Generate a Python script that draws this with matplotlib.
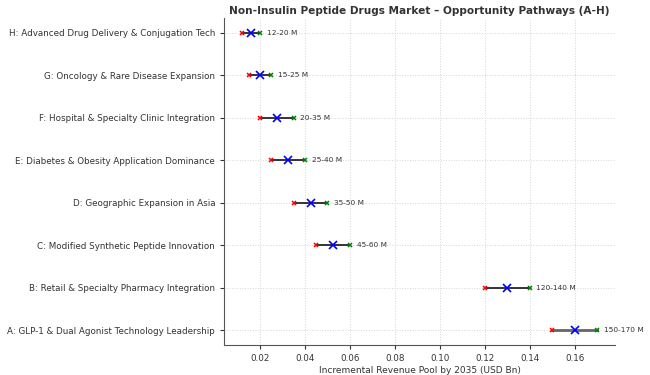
import matplotlib
matplotlib.use("Agg")
import matplotlib.pyplot as plt

labels = [
    "A: GLP-1 & Dual Agonist Technology Leadership",
    "B: Retail & Specialty Pharmacy Integration",
    "C: Modified Synthetic Peptide Innovation",
    "D: Geographic Expansion in Asia",
    "E: Diabetes & Obesity Application Dominance",
    "F: Hospital & Specialty Clinic Integration",
    "G: Oncology & Rare Disease Expansion",
    "H: Advanced Drug Delivery & Conjugation Tech",
]
low = [0.150, 0.120, 0.045, 0.035, 0.025, 0.020, 0.015, 0.012]
high = [0.170, 0.140, 0.060, 0.050, 0.040, 0.035, 0.025, 0.020]
range_text = ["150-170 M", "120-140 M", "45-60 M", "35-50 M",
              "25-40 M", "20-35 M", "15-25 M", "12-20 M"]

fig, ax = plt.subplots(figsize=(6.5, 3.75), dpi=100)

for i in range(len(labels)):
    mid = (low[i] + high[i]) / 2
    lc = "#666666" if i == 0 else "black"
    lw = 2 if i == 0 else 1.1
    ax.plot([low[i], high[i]], [i, i], color=lc, lw=lw, zorder=2)
    ax.plot(low[i], i, marker="x", color="red", ms=3.5, mew=1.1, zorder=3)
    ax.plot(high[i], i, marker="x", color="green", ms=3.5, mew=1.1, zorder=3)
    ax.plot(mid, i, marker="x", color="blue", ms=5.5, mew=1.2, zorder=4)
    ax.text(high[i] + 0.003, i, range_text[i], va="center", ha="left",
            fontsize=5.3, color="#333333")

ax.set_yticks(range(len(labels)))
ax.set_yticklabels(labels)
ax.tick_params(axis="both", labelsize=6.35, colors="#333333", length=3)
ax.set_xlabel("Incremental Revenue Pool by 2035 (USD Bn)", fontsize=6.5,
              color="#333333", labelpad=2)
ax.set_title("Non-Insulin Peptide Drugs Market \u2013 Opportunity Pathways (A-H)",
             fontsize=7.6, fontweight="bold", color="#333333", pad=3)
ax.grid(True, linestyle=":", color="#d5d5d5", lw=0.7)
ax.set_axisbelow(True)
for s in ["top", "right"]:
    ax.spines[s].set_visible(False)
for s in ["left", "bottom"]:
    ax.spines[s].set_color("#555555")

plt.subplots_adjust(left=0.345, right=0.946, top=0.952, bottom=0.08)
plt.savefig("out.png")
